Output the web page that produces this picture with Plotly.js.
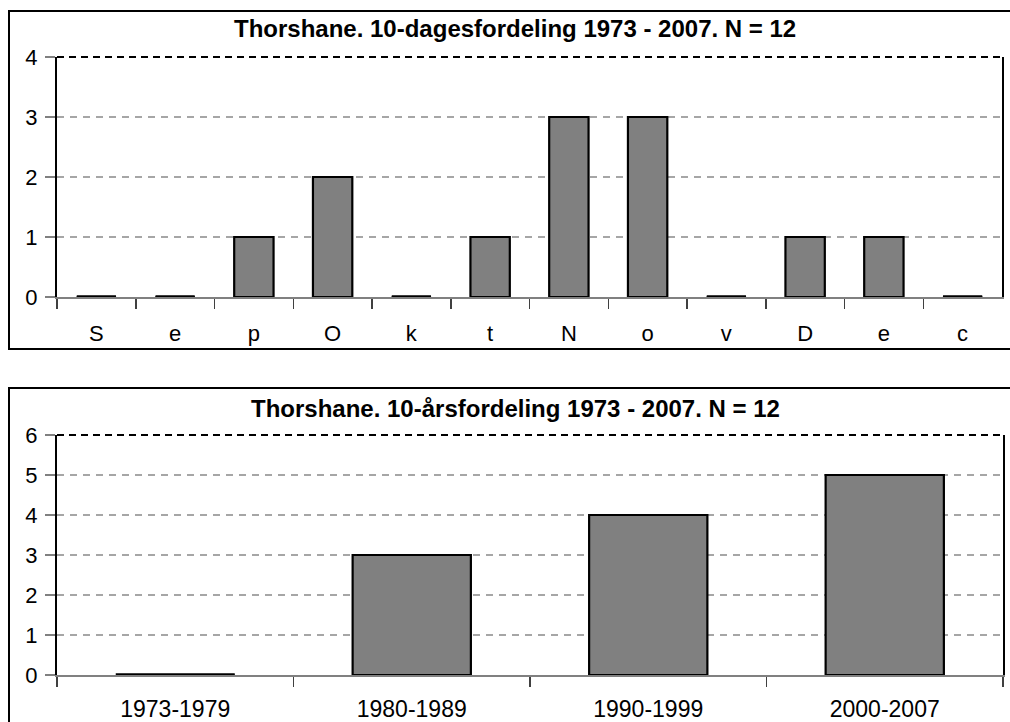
<!DOCTYPE html>
<html>
<head>
<meta charset="utf-8">
<script src="https://cdn.plot.ly/plotly-3.0.1.min.js"></script>
<style>
html,body{margin:0;padding:0;background:#fff;}
#chart{width:1010px;height:722px;}
</style>
</head>
<body>
<div id="chart"></div>
<script>
// ---- data ----
const tenDayLabels = ['S','e','p','O','k','t','N','o','v','D','e','c'];
const tenDayCounts = [0,0,1,2,0,1,3,3,0,1,1,0];
const decadeLabels = ['1973-1979','1980-1989','1990-1999','2000-2007'];
const decadeCounts = [0,3,4,5];
const title1 = 'Thorshane. 10-dagesfordeling 1973 - 2007. N = 12';
const title2 = 'Thorshane. 10-årsfordeling 1973 - 2007. N = 12';

// ---- layout helpers ----
const W = 1010, H = 722;
const px = x => x / W;
const py = y => 1 - y / H;
const FONT = 'Arial, "Liberation Sans", sans-serif';

// unique category keys (labels repeat, e.g. the two 'e'); shown via labelalias
const keys1 = tenDayLabels.map((_, i) => 'c' + i);
const keys2 = decadeLabels.map((_, i) => 'c' + i);
const zero1 = keys1.filter((_, i) => tenDayCounts[i] === 0);
const zero2 = keys2.filter((_, i) => decadeCounts[i] === 0);
// category boundaries (for the boundary tick marks of the upper chart)
const bounds1 = Array.from({length: tenDayLabels.length + 1}, (_, i) => i - 0.5);

const barStyle = {color: '#808080', line: {color: '#000', width: 2.2}};

const traces = [
  {type: 'bar', x: keys1, y: tenDayCounts, xaxis: 'x', yaxis: 'y', marker: barStyle, hoverinfo: 'skip'},
  {type: 'scatter', mode: 'markers', x: zero1, y: zero1.map(() => 0), xaxis: 'x', yaxis: 'y',
   marker: {symbol: 'line-ew', size: 28, line: {color: '#000', width: 3.5}}, cliponaxis: false, hoverinfo: 'skip'},
  // boundary tick marks below the upper x axis (drawn as downward error bars)
  {type: 'scatter', mode: 'markers', x: bounds1, y: bounds1.map(() => 0), xaxis: 'x3', yaxis: 'y',
   marker: {size: 1, color: 'rgba(0,0,0,0)'}, cliponaxis: false, hoverinfo: 'skip',
   error_y: {type: 'constant', symmetric: false, value: 0, valueminus: 10 / 60, width: 0, thickness: 1.5, color: '#404040'}},
  {type: 'bar', x: keys2, y: decadeCounts, xaxis: 'x2', yaxis: 'y2', marker: barStyle, hoverinfo: 'skip'},
  {type: 'scatter', mode: 'markers', x: zero2, y: zero2.map(() => 0), xaxis: 'x2', yaxis: 'y2',
   marker: {symbol: 'line-ew', size: 85, line: {color: '#000', width: 3.5}}, cliponaxis: false, hoverinfo: 'skip'}
];

function xAxis(domain, keys, labels, yref, fsize, standoff) {
  const alias = {};
  keys.forEach((k, i) => { alias[k] = labels[i]; });
  return {
    type: 'category', domain: domain, anchor: yref,
    categoryorder: 'array', categoryarray: keys,
    range: [-0.5, keys.length - 0.5], autorange: false,
    tickmode: 'linear', tick0: 0, dtick: 1, labelalias: alias,
    tickson: 'boundaries',
    ticks: 'outside', ticklen: 10, tickwidth: 1.5, tickcolor: '#404040',
    showgrid: false, zeroline: false,
    showline: true, linecolor: '#808080', linewidth: 2,
    tickfont: {family: FONT, size: fsize, color: '#000'},
    ticklabelstandoff: standoff,
    fixedrange: true
  };
}
function yAxis(domain, max, xref) {
  return {
    domain: domain, anchor: xref, range: [0, max], dtick: 1, tick0: 0,
    showline: true, linecolor: '#000', linewidth: 2, mirror: true,
    ticks: 'outside', ticklen: 10, tickwidth: 2, tickcolor: '#808080',
    showgrid: true, gridcolor: '#a6a6a6', gridwidth: 1.3, griddash: '7px,6px',
    zeroline: false,
    tickfont: {family: FONT, size: 22, color: '#000'},
    ticklabelstandoff: 3,
    fixedrange: true
  };
}

const layout = {
  width: W, height: H,
  margin: {l: 0, r: 0, t: 0, b: 0},
  paper_bgcolor: '#fff', plot_bgcolor: '#fff',
  showlegend: false, bargap: 0.5,
  font: {family: FONT, color: '#000'},
  xaxis: xAxis([px(57), px(1002)], keys1, tenDayLabels, 'y', 22, 16),
  yaxis: yAxis([py(297), py(57)], 4, 'x'),
  xaxis2: xAxis([px(57), px(1003)], keys2, decadeLabels, 'y2', 23, 12),
  yaxis2: yAxis([py(675), py(435)], 6, 'x2'),
  xaxis3: {overlaying: 'x', anchor: 'y', side: 'bottom', range: [-0.5, tenDayLabels.length - 0.5],
           showticklabels: false, ticks: '', showgrid: false, zeroline: false, showline: false, fixedrange: true},
  shapes: [
    {type: 'rect', xref: 'paper', yref: 'paper', x0: px(9), x1: px(1030), y0: py(349), y1: py(11),
     line: {color: '#000', width: 2}, fillcolor: 'rgba(0,0,0,0)', layer: 'below'},
    {type: 'rect', xref: 'paper', yref: 'paper', x0: px(9), x1: px(1030), y0: py(740), y1: py(388),
     line: {color: '#000', width: 2}, fillcolor: 'rgba(0,0,0,0)', layer: 'below'},
    {type: 'line', xref: 'x domain', yref: 'y domain', x0: 0, x1: 1, y0: 1, y1: 1,
     line: {color: '#000', width: 2, dash: '7px,5px'}},
    {type: 'line', xref: 'x2 domain', yref: 'y2 domain', x0: 0, x1: 1, y0: 1, y1: 1,
     line: {color: '#000', width: 2, dash: '7px,5px'}}
  ],
  annotations: [
    {text: '<b>' + title1 + '</b>', xref: 'paper', yref: 'paper', x: px(515), y: py(29),
     xanchor: 'center', yanchor: 'middle', showarrow: false, font: {family: FONT, size: 24, color: '#000'}},
    {text: '<b>' + title2 + '</b>', xref: 'paper', yref: 'paper', x: px(515), y: py(408),
     xanchor: 'center', yanchor: 'middle', showarrow: false, font: {family: FONT, size: 24, color: '#000'}}
  ]
};

Plotly.newPlot('chart', traces, layout, {staticPlot: true, displayModeBar: false});
</script>
</body>
</html>
